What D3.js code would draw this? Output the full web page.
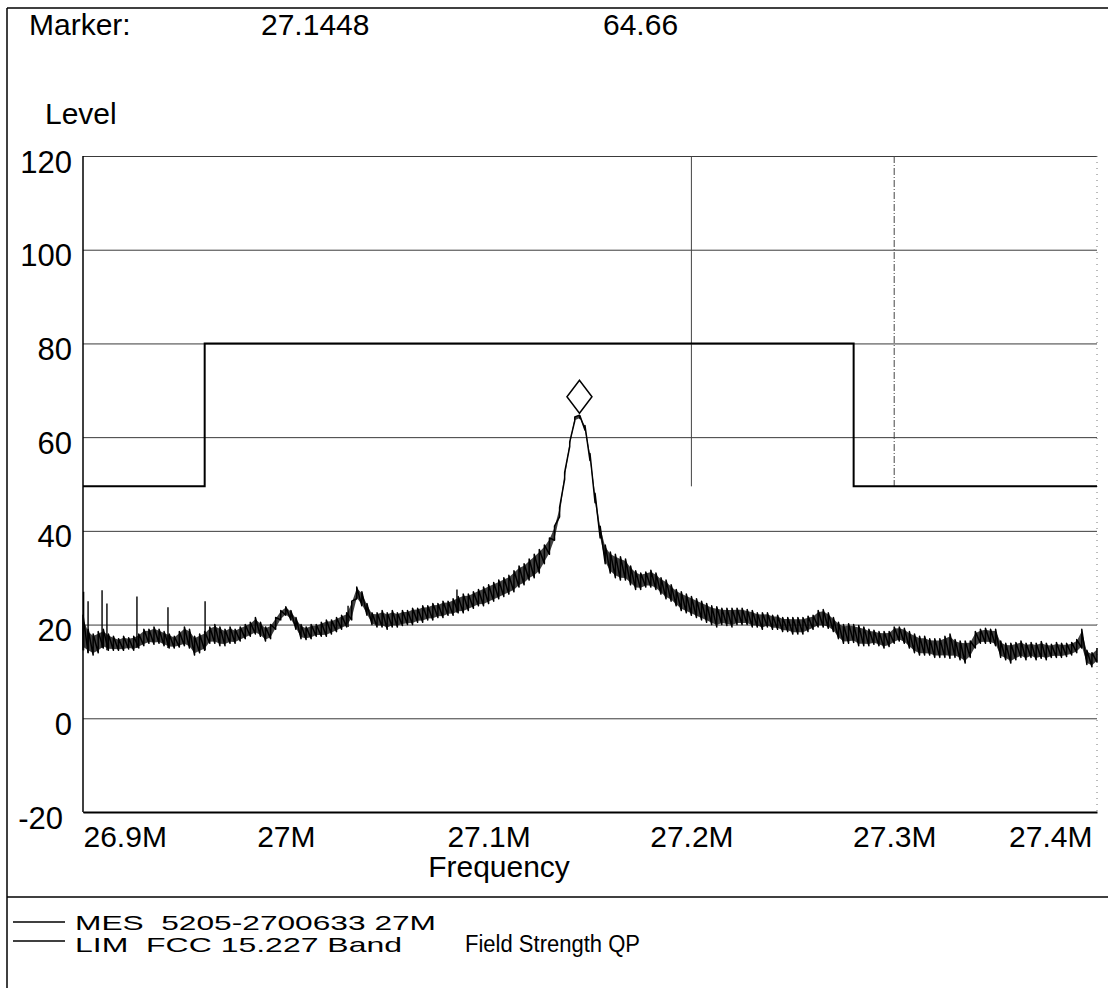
<!DOCTYPE html>
<html>
<head>
<meta charset="utf-8">
<script src="https://cdn.jsdelivr.net/npm/d3@7/dist/d3.min.js"></script>
<style>
  body { margin: 0; background: #fff; }
  svg { display: block; font-family: "Liberation Sans", Arial, sans-serif; }
</style>
</head>
<body>
<svg id="chart" width="1108" height="988"></svg>
<script>
// asse y (dBuV/m) e asse x (MHz)
var yTicks = [-20, 0, 20, 40, 60, 80, 100, 120];
var xTicks = [26.9, 27.0, 27.1, 27.2, 27.3, 27.4];
var xTickLabels = ["26.9M", "27M", "27.1M", "27.2M", "27.3M", "27.4M"];

// griglia di campionamento della traccia MES (start, passo in MHz)
var sweepStart = 26.9;
var sweepStep = 0.0025;

// traccia MES: minimo e massimo del rumore per ogni campione
var mesLo = [
  14.5,14,13.5,14,15,14.5,14.5,14.5,14.5,14.8,
  14.5,15,15.5,16,15.8,16,15.5,15,15,15.2,
  15.5,15,13.5,14,14.5,16,16,15.5,15.5,16,
  16,16.5,17,17.5,18,17.5,16.5,17,19,21,
  22,21,19,17,16.8,17,17.5,17.5,17.5,18,
  18.5,19,19.5,21,25.5,24,22,20,19.5,19.5,
  19,19.5,19.5,19.8,20,20,20.5,20.5,21,21,
  21.5,21.5,22,22,22.5,22.5,23,23.5,24,24,
  24.5,25,25.5,26,26.5,27,28,28.5,29.5,30,
  31,33,35,38,43,51,58,63.5,64,61.5,
  55,46,38.5,33,31,30,29.5,29.5,28.5,27.5,
  27.5,28,28,27.5,26.5,25.5,25,24,23,22.5,
  22,21.5,21,20.5,20,19.5,20,19.8,19.5,20,
  20,20,19.5,19.5,19,19.5,19,19,18.5,18.5,
  18,18,18,18.5,19,19.5,19.5,19.2,18.5,17,
  16,16,16.2,15.5,15.5,15.5,15.8,15.5,15,15.3,
  16,16.5,16,15,14,13.5,13.5,13.5,13,13,
  13,12.8,13,12.5,11.8,13,15,16,16,16,
  15.5,13,12.5,11.8,12.5,13,12.5,13,12.5,12.8,
  12.5,13,13,13,13.2,13.5,14,15,11.5,11,
  12
];
var mesHi = [
  22,19,18,18.5,19,18,17.5,17,17.5,17.2,
  17.5,18,19,19,19.5,19,18.5,18,17.5,18.5,
  19.5,19,17.5,18,18.5,19.5,20,19.5,19,19.5,
  19,19.5,20,20.5,21.5,20.5,19.5,20,21.5,23,
  23.8,23,21.5,20,19.5,20,20,20.5,21,21,
  21.5,22,22.5,25,28,27,24.5,22.5,22.5,23,
  22.5,23,22.5,23,23,23.5,23.5,24,24,24.5,
  24.5,25,25,25.5,26,26.5,26.5,27,27.5,28,
  28.5,29,29.5,30,30.5,31.5,32.5,33,34,35,
  36,37,38.5,41,45,52.5,59,64.3,64.6,62.5,
  56.5,48,41,37,35.5,35,34.5,34,32.5,31.5,
  31,31.2,31.6,31,30,29.5,28.5,27.5,27,26.5,
  26,25.5,25,24.5,24,23.8,23.5,23.5,23.5,23.5,
  23.5,23.2,23,22.5,22.5,22.5,22,22,21.5,21.5,
  21.5,21.5,21.5,21.8,22,23,23.2,22.5,21.5,20.5,
  20,20.2,20,19.8,19.5,19,18.8,18.5,18.5,18.5,
  19.5,19.5,19.2,18.5,18,17.5,17.5,17,17,17,
  17.5,18,16.8,16.5,16.5,16.5,18.5,19,19.2,19,
  19,16.5,16,16,16.2,16.5,16,16.2,16,16.4,
  16,15.8,16.2,16,16,16.2,16.8,19,14.5,14,
  15
];

// picchi stretti sulla traccia
var spikeFreq  = [26.9003, 26.9025, 26.9094, 26.9118, 26.9266, 26.9419, 26.9602, 27.0307, 27.0844];
var spikeLevel = [27, 25, 27.3, 24.5, 26, 23.7, 25, 24, 27.5];

// linea limite FCC 15.227
var limFreq  = [26.9, 26.96, 26.96, 27.28, 27.28, 27.4];
var limLevel = [49.5, 49.5, 80, 80, 49.5, 49.5];

// linee verticali di riferimento
var refFreq = [27.2, 27.3];
var refTop = 120, refBottom = 49.5;

// marker
var markerFreq = 27.1448;
var markerLevel = 64.66;

var svg = d3.select("#chart");
var font = "'Liberation Sans', Arial, sans-serif";

var pLeft = 83, pRight = 1097, pTop = 156, pBottom = 812;

var x = d3.scaleLinear().domain([26.9, 27.4]).range([pLeft, pRight]);
var y = d3.scaleLinear().domain([-20, 120]).range([pBottom, pTop]);

// cornice esterna
svg.append("line").attr("x1", 7).attr("y1", 8).attr("x2", 7).attr("y2", 988)
    .attr("stroke", "#000").attr("stroke-width", 1.5);
svg.append("line").attr("x1", 7).attr("y1", 8).attr("x2", 1108).attr("y2", 8)
    .attr("stroke", "#000").attr("stroke-width", 1.5);
svg.append("line").attr("x1", 7).attr("y1", 897).attr("x2", 1108).attr("y2", 897)
    .attr("stroke", "#000").attr("stroke-width", 1.5);

// intestazione
svg.append("text").attr("x", 29).attr("y", 35).attr("font-size", "30px").text("Marker:");
svg.append("text").attr("x", 261).attr("y", 35).attr("font-size", "30px").text(markerFreq.toFixed(4));
svg.append("text").attr("x", 603).attr("y", 35).attr("font-size", "30px").text(markerLevel.toFixed(2));
svg.append("text").attr("x", 45).attr("y", 124).attr("font-size", "30px").text("Level");

// asse y con griglia
var yAxis = svg.append("g")
    .attr("transform", "translate(" + pLeft + ",0)")
    .call(d3.axisLeft(y).tickValues(yTicks).tickSize(-(pRight - pLeft)).tickPadding(11)
        .tickFormat(function (d) { return String(d); }));
yAxis.select(".domain").remove();
yAxis.selectAll(".tick line").attr("stroke", "#3a3a3a").attr("stroke-width", 1);
yAxis.selectAll(".tick text")
    .attr("font-size", "31px").attr("font-family", font).attr("fill", "#000")
    .attr("dy", "0.52em")
    .attr("x", function (d) { return d < 0 ? -20 : -11; });

// asse x
var xAxis = svg.append("g")
    .attr("transform", "translate(0," + pBottom + ")")
    .call(d3.axisBottom(x).tickValues(xTicks).tickSize(0).tickPadding(14)
        .tickFormat(function (d, i) { return xTickLabels[i]; }));
xAxis.select(".domain").attr("stroke", "#000").attr("stroke-width", 2);
xAxis.selectAll(".tick text")
    .attr("font-size", "30px").attr("font-family", font).attr("fill", "#000")
    .attr("text-anchor", function (d, i) {
        if (i == 0) return "start";
        if (i == xTicks.length - 1) return "end";
        return "middle";
    })
    .attr("x", function (d, i) { return i == xTicks.length - 1 ? -5 : 0; });

svg.append("text").attr("x", 499).attr("y", 877).attr("text-anchor", "middle")
    .attr("font-size", "30px").text("Frequency");

// bordi area grafico
svg.append("line").attr("x1", pLeft).attr("y1", pTop).attr("x2", pLeft).attr("y2", pBottom)
    .attr("stroke", "#000").attr("stroke-width", 1.5);
svg.append("line").attr("x1", pRight).attr("y1", pTop).attr("x2", pRight).attr("y2", pBottom)
    .attr("stroke", "#777").attr("stroke-width", 1).attr("stroke-dasharray", "1,5");

// linee verticali di riferimento
svg.selectAll("line.ref")
    .data(refFreq)
    .enter()
    .append("line")
    .attr("class", "ref")
    .attr("x1", function (d) { return x(d); })
    .attr("x2", function (d) { return x(d); })
    .attr("y1", y(refTop))
    .attr("y2", y(refBottom))
    .attr("stroke", "#444")
    .attr("stroke-width", 1)
    .attr("stroke-dasharray", function (d, i) { return i == 0 ? null : "7,2,1,2"; });

// linea limite
var limPts = limFreq.map(function (f, i) { return [f, limLevel[i]]; });
svg.append("path")
    .datum(limPts)
    .attr("fill", "none")
    .attr("stroke", "#000")
    .attr("stroke-width", 2)
    .attr("d", d3.line().x(function (d) { return x(d[0]); }).y(function (d) { return y(d[1]); }));

// banda del rumore MES (riempita) + dente di sega min -> max
var band = mesLo.map(function (lo, i) { return [sweepStart + i * sweepStep, lo, mesHi[i]]; });
svg.append("path")
    .datum(band)
    .attr("fill", "#111")
    .attr("fill-opacity", 0.8)
    .attr("d", d3.area()
        .x(function (d) { return x(d[0]); })
        .y0(function (d) { return y(d[1] + (d[2] - d[1]) * 0.1); })
        .y1(function (d) { return y(d[2] - (d[2] - d[1]) * 0.1); }));

var mesPts = [];
band.forEach(function (d, i) {
    if (i > 0 && d[0] > markerFreq && band[i - 1][0] < markerFreq) {
        mesPts.push([markerFreq, markerLevel]);
    }
    mesPts.push([d[0], d[1]]);
    mesPts.push([d[0], d[2]]);
});
svg.append("path")
    .datum(mesPts)
    .attr("fill", "none")
    .attr("stroke", "#000")
    .attr("stroke-width", 1.5)
    .attr("stroke-linejoin", "round")
    .attr("d", d3.line().x(function (d) { return x(d[0]); }).y(function (d) { return y(d[1]); }));

// picchi stretti
svg.selectAll("line.spike")
    .data(spikeFreq)
    .enter()
    .append("line")
    .attr("class", "spike")
    .attr("x1", function (d) { return x(d); })
    .attr("x2", function (d) { return x(d); })
    .attr("y1", function (d, i) { return y(spikeLevel[i]); })
    .attr("y2", function (d) {
        var k = Math.round((d - sweepStart) / sweepStep);
        return y(mesLo[k]);
    })
    .attr("stroke", "#000")
    .attr("stroke-width", 1.4);

// marker a rombo sopra il picco
var mx = x(markerFreq), my = y(markerLevel) - 2;
svg.append("path")
    .attr("d", "M" + mx + "," + my + " L" + (mx + 12.5) + "," + (my - 16.5) +
        " L" + mx + "," + (my - 33) + " L" + (mx - 12.5) + "," + (my - 16.5) + "Z")
    .attr("fill", "#fff")
    .attr("stroke", "#000")
    .attr("stroke-width", 1.5);

// leggenda
var legendRows = [
    { label: "MES  5205-2700633 27M", y: 930, ly: 922, len: 361 },
    { label: "LIM  FCC 15.227 Band", y: 952, ly: 941, len: 327 }
];
legendRows.forEach(function (r) {
    svg.append("line").attr("x1", 13).attr("x2", 65).attr("y1", r.ly).attr("y2", r.ly)
        .attr("stroke", "#000").attr("stroke-width", 1.3);
    svg.append("text").attr("x", 75).attr("y", r.y).attr("font-size", "21px")
        .attr("textLength", r.len).attr("lengthAdjust", "spacingAndGlyphs")
        .style("white-space", "pre")
        .text(r.label);
});
svg.append("text").attr("x", 465).attr("y", 952).attr("font-size", "23px")
    .attr("textLength", 175).attr("lengthAdjust", "spacingAndGlyphs")
    .text("Field Strength QP");
</script>
</body>
</html>
